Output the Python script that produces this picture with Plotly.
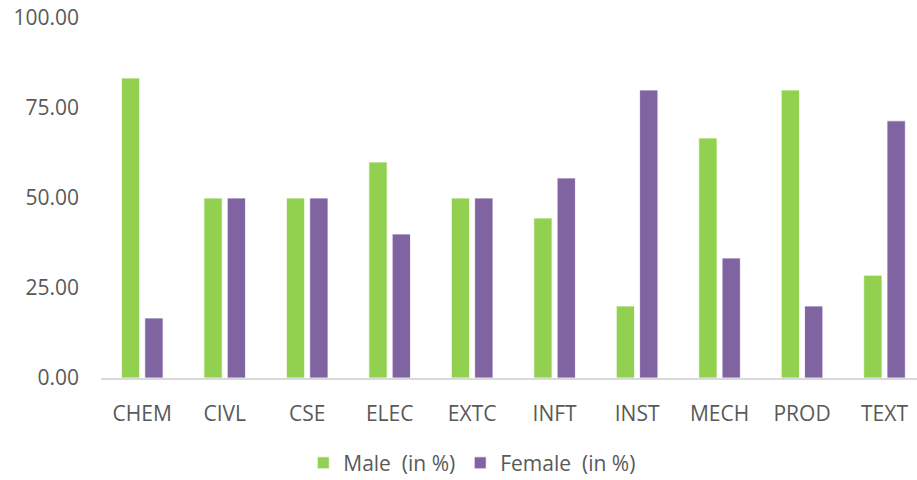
import plotly.graph_objects as go

categories = ["CHEM", "CIVL", "CSE", "ELEC", "EXTC", "INFT", "INST", "MECH", "PROD", "TEXT"]
male = [83.33, 50.00, 50.00, 60.00, 50.00, 44.44, 20.00, 66.67, 80.00, 28.57]
female = [16.67, 50.00, 50.00, 40.00, 50.00, 55.56, 80.00, 33.33, 20.00, 71.43]
y_ticks = [0, 25, 50, 75, 100]

FONT = "Open Sans"
TXT = "#595959"
FS = 21

fig = go.Figure()
fig.add_trace(go.Bar(x=categories, y=male, name="Male  (in %)",
                     marker=dict(color="#92D050", line=dict(color="white", width=0.8))))
fig.add_trace(go.Bar(x=categories, y=female, name="Female  (in %)",
                     marker=dict(color="#8064A2", line=dict(color="white", width=0.8))))

fig.update_layout(
    width=917, height=480,
    margin=dict(l=101, r=0, t=18, b=102, pad=0),
    paper_bgcolor="white", plot_bgcolor="white",
    barmode="group", bargap=0.434, bargroupgap=0.215,
    font=dict(family=FONT, size=FS, color=TXT),
    showlegend=True,
    legend=dict(orientation="h", xref="container", yref="container",
                x=0.515, xanchor="center", y=0.035, yanchor="middle",
                font=dict(family=FONT, size=FS, color=TXT), itemwidth=30),
    xaxis=dict(range=[-0.5, 9.394], showgrid=False, showline=True, linecolor="#D9D9D9",
               linewidth=2, ticks="", ticklabelstandoff=16,
               tickfont=dict(family=FONT, size=FS, color=TXT)),
    yaxis=dict(range=[0, 100], tickvals=y_ticks, tickformat=".2f", showgrid=False,
               zeroline=False, showline=False, ticks="", ticklabelstandoff=21,
               tickfont=dict(family=FONT, size=FS, color=TXT)),
)

fig.write_html("out.html", config={"displayModeBar": False},
               post_script="document.body.style.margin='0';document.body.style.overflow='hidden';")
